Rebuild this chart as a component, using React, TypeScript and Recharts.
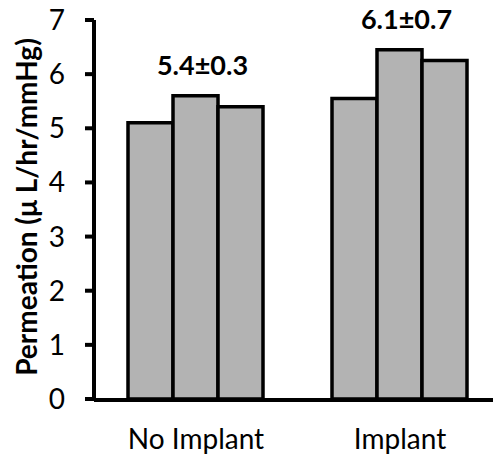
import React from 'react';
import { BarChart, Bar, XAxis, YAxis, LabelList } from 'recharts';

const groups = ['No Implant', 'Implant'];
const run1 = [5.1, 5.55];
const run2 = [5.6, 6.45];
const run3 = [5.4, 6.25];
const means = [5.4, 6.1];
const sds = [0.3, 0.7];
const yTicks = [0, 1, 2, 3, 4, 5, 6, 7];

const data = groups.map((name, i) => ({
  name,
  r1: run1[i],
  r2: run2[i],
  r3: run3[i],
}));

const FONT = 'Lato, "Open Sans", sans-serif';
const FILL = '#b3b3b3';

// mean ± sd over each group, drawn above the middle bar
const StatLabel = (props: any) => {
  const { x, y, width, index } = props;
  return (
    <text
      x={x + width / 2 + 7}
      y={y - 31}
      textAnchor="middle"
      dominantBaseline="central"
      fontFamily={FONT}
      fontWeight="bold"
      fontSize={27}
      fill="#000"
    >
      {`${means[index].toFixed(1)}±${sds[index].toFixed(1)}`}
    </text>
  );
};

const YTitle = () => (
  <text
    x={37}
    y={207}
    transform="rotate(-90, 37, 207)"
    textAnchor="middle"
    fontFamily={FONT}
    fontWeight="bold"
    fontSize={28}
    fill="#000"
  >
    Permeation (μ L/hr/mmHg)
  </text>
);

const App = () => (
  <div
    style={{
      position: 'absolute',
      left: 0,
      top: 0,
      width: 493,
      height: 456,
      overflow: 'hidden',
      background: '#fff',
    }}
  >
    <BarChart
      width={512}
      height={456}
      data={data}
      margin={{ top: 20, right: 10, bottom: 55, left: 0 }}
      barCategoryGap={34}
      barGap={0}
    >
      <XAxis
        dataKey="name"
        height={1}
        axisLine={false}
        tickLine={false}
        tickSize={0}
        tickMargin={30}
        tick={{ fontSize: 28, fill: '#000', fontFamily: FONT }}
      />
      {/* boundary ticks between the two groups */}
      <XAxis
        xAxisId="edges"
        type="number"
        domain={[0, 2]}
        ticks={[0, 1, 2]}
        height={1}
        tick={false}
        tickSize={9}
        axisLine={{ stroke: '#000', strokeWidth: 4 }}
        tickLine={{ stroke: '#000', strokeWidth: 4 }}
      />
      <YAxis
        width={94}
        domain={[0, 7]}
        ticks={yTicks}
        interval={0}
        tickSize={9}
        tickMargin={20}
        axisLine={{ stroke: '#000', strokeWidth: 4 }}
        tickLine={{ stroke: '#000', strokeWidth: 4 }}
        tick={{ fontSize: 28, fill: '#000', fontFamily: FONT }}
        label={<YTitle />}
      />
      <Bar dataKey="r1" fill={FILL} stroke="#000" strokeWidth={3.5} isAnimationActive={false} />
      <Bar dataKey="r2" fill={FILL} stroke="#000" strokeWidth={3.5} isAnimationActive={false}>
        <LabelList dataKey="r2" content={<StatLabel />} />
      </Bar>
      <Bar dataKey="r3" fill={FILL} stroke="#000" strokeWidth={3.5} isAnimationActive={false} />
    </BarChart>
  </div>
);

export default App;
